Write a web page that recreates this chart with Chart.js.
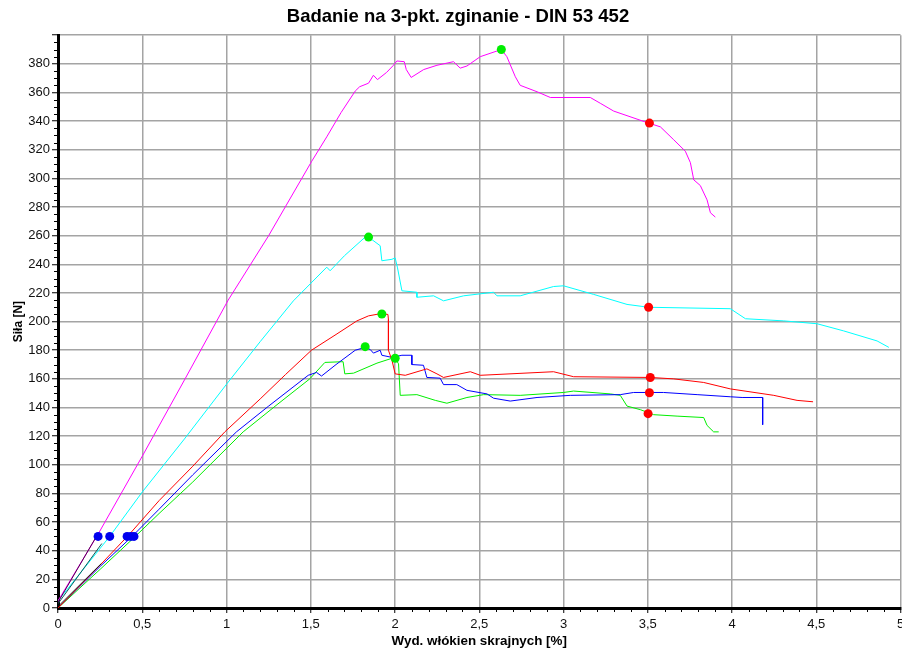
<!DOCTYPE html>
<html>
<head>
<meta charset="utf-8">
<script src="https://cdn.jsdelivr.net/npm/chart.js@4"></script>
<style>
  html, body { margin: 0; background: #fff; overflow: hidden; }
  canvas { display: block; }
</style>
</head>
<body>
<canvas id="bend-chart" width="905" height="655"></canvas>
<script>
// strain [%] / force [N] readings for each specimen
const magentaX = [0, 0.24, 0.5, 0.754, 1.01, 1.25, 1.506, 1.595, 1.68, 1.764, 1.79, 1.843, 1.872, 1.896, 1.95, 1.991, 2.011, 2.055, 2.067, 2.096, 2.17, 2.249, 2.347, 2.387, 2.427, 2.506, 2.631, 2.664, 2.714, 2.743, 2.843, 2.922, 3.159, 3.218, 3.298, 3.496, 3.575, 3.654, 3.723, 3.753, 3.773, 3.812, 3.852, 3.872, 3.901];
const magentaY = [5, 52, 106, 160, 215, 260, 312, 329, 346, 361, 364, 366.5, 372, 369, 374, 379, 382, 381.5, 376, 370.5, 376, 379, 381.5, 377, 378.5, 385, 390, 385, 371, 365, 360.5, 356.5, 356.5, 352.5, 347, 339, 336, 327, 319, 311, 299, 295, 285, 276, 273];

const cyanX = [0, 0.307, 0.5, 0.75, 1.005, 1.2, 1.397, 1.595, 1.615, 1.7, 1.823, 1.843, 1.912, 1.922, 1.982, 2.001, 2.015, 2.041, 2.13, 2.13, 2.229, 2.288, 2.407, 2.585, 2.605, 2.743, 2.941, 3.0, 3.179, 3.377, 3.505, 3.99, 4.08, 4.307, 4.505, 4.663, 4.861, 4.931];
const cyanY = [5, 50, 81, 118, 157, 186, 214.5, 238, 235.5, 246, 259, 259, 253, 242.5, 243.5, 244.5, 237.5, 221.5, 220.5, 217, 218, 214.5, 218, 220.5, 218, 218, 224.5, 225, 219, 212, 210, 209, 202, 200.5, 198.5, 193.5, 186.5, 182];

const redX = [0, 0.25, 0.42, 0.6, 0.8, 0.99, 1.2, 1.35, 1.504, 1.65, 1.774, 1.843, 1.912, 1.958, 1.961, 1.961, 1.982, 2.001, 2.061, 2.189, 2.249, 2.288, 2.447, 2.506, 2.941, 3.06, 3.515, 3.654, 3.832, 3.99, 4.248, 4.386, 4.481];
const redY = [0, 30, 51, 75, 99, 123, 146, 163, 180, 191, 200.5, 204, 205.5, 205, 201.5, 180, 173, 163.5, 162.5, 167, 163.5, 161, 165, 162.5, 165, 161.5, 161, 160, 157.5, 153, 148.5, 145, 144];

const blueX = [0, 0.25, 0.44, 0.6, 0.8, 1.059, 1.25, 1.485, 1.534, 1.564, 1.65, 1.764, 1.823, 1.853, 1.872, 1.912, 1.922, 1.982, 2.041, 2.1, 2.1, 2.169, 2.189, 2.268, 2.288, 2.367, 2.427, 2.546, 2.585, 2.684, 2.843, 3.04, 3.337, 3.416, 3.594, 3.793, 3.99, 4.06, 4.182, 4.182];
const blueY = [0, 29, 50, 69, 93, 123, 141, 162.5, 164.5, 162, 170, 180, 182, 180.5, 178, 180, 176.5, 175, 176.5, 176.5, 170, 169.5, 161, 160.5, 156, 156, 152, 149.5, 146.5, 144.5, 147, 148.5, 149, 150.5, 150.5, 149, 147.5, 147, 147, 128];

const greenX = [0, 0.25, 0.45, 0.6, 0.8, 1.099, 1.3, 1.494, 1.584, 1.692, 1.702, 1.754, 1.893, 1.972, 2.001, 2.021, 2.031, 2.13, 2.239, 2.308, 2.427, 2.526, 2.743, 3.0, 3.06, 3.278, 3.337, 3.377, 3.456, 3.535, 3.674, 3.832, 3.852, 3.891, 3.921];
const greenY = [0, 27, 49, 66, 88, 123, 142, 160, 171.5, 172, 163.5, 164, 171, 174, 174.5, 170.5, 148.5, 149, 145, 143, 147, 149, 148.5, 150.5, 151.5, 149.5, 148.5, 141, 138.5, 135, 134, 133, 127.5, 123, 123];

// modulus fit segments over the start of each curve
const fitMagentaX = [0, 0.238];
const fitMagentaY = [4, 52];
const fitCyanX = [0, 0.26];
const fitCyanY = [3, 45];
const fitLowX = [0, 0.257];
const fitLowY = [1, 31];

// marked points: force 50 N, maximum force, value at 3.5 %
const startX = [0.238, 0.307, 0.41, 0.432, 0.451];
const startY = [50, 50, 50, 50, 50];
const maxX = [2.631, 1.843, 1.922, 1.823, 2.001];
const maxY = [390, 259, 205.3, 182.5, 174.4];
const at35X = [3.51, 3.505, 3.515, 3.51, 3.502];
const at35Y = [338.6, 210, 161, 150.3, 135.7];

const xMin = 0, xMax = 5, xStep = 0.5, xMinor = 0.1;
const yMin = 0, yMax = 400, yStep = 20, yMinor = 5;

const pts = (xs, ys) => xs.map((x, i) => ({ x: x, y: ys[i] }));

const curve = (xs, ys, color, order) => ({
    data: pts(xs, ys),
    showLine: true,
    borderColor: color,
    borderWidth: 1,
    pointRadius: 0,
    tension: 0,
    order: order
});

const marks = (xs, ys, color) => ({
    data: pts(xs, ys),
    showLine: false,
    pointRadius: 4.5,
    pointBackgroundColor: color,
    pointBorderColor: color,
    pointBorderWidth: 0,
    order: 0
});

const fontFamily = '"Liberation Sans", Arial, sans-serif';

// small minor tick marks on both axes
const minorTicks = {
    id: 'minorTicks',
    afterDraw(chart) {
        const ctx = chart.ctx;
        const area = chart.chartArea;
        const xs = chart.scales.x, ys = chart.scales.y;
        ctx.save();
        ctx.strokeStyle = '#000';
        ctx.lineWidth = 1;
        ctx.beginPath();
        for (let v = yMin; v <= yMax + 0.001; v += yMinor) {
            if (Math.round(v) % yStep === 0) continue;
            const p = Math.round(ys.getPixelForValue(v)) + 0.5;
            ctx.moveTo(area.left - 4, p);
            ctx.lineTo(area.left - 1, p);
        }
        for (let i = 0; i <= Math.round((xMax - xMin) / xMinor); i++) {
            if (i % 5 === 0) continue;
            const p = Math.round(xs.getPixelForValue(xMin + i * xMinor)) + 0.5;
            ctx.moveTo(p, area.bottom + 1);
            ctx.lineTo(p, area.bottom + 4);
        }
        ctx.stroke();
        ctx.restore();
    }
};

new Chart(document.getElementById('bend-chart'), {
    type: 'scatter',
    data: {
        datasets: [
            marks(startX, startY, '#0000ee'),
            marks(maxX, maxY, '#00ee00'),
            marks(at35X, at35Y, '#ff0000'),
            curve(fitMagentaX, fitMagentaY, '#500050', 1),
            curve(fitCyanX, fitCyanY, '#105858', 1),
            curve(fitLowX, fitLowY, '#101010', 1),
            curve(magentaX, magentaY, '#ff00ff', 2),
            curve(cyanX, cyanY, '#00ffff', 2),
            curve(redX, redY, '#ff0000', 2),
            curve(blueX, blueY, '#0000ff', 2),
            curve(greenX, greenY, '#00ee00', 3)
        ]
    },
    plugins: [minorTicks],
    options: {
        responsive: false,
        animation: false,
        devicePixelRatio: 1,
        layout: { padding: { left: 11, right: 0, top: 0, bottom: 0 } },
        plugins: {
            legend: { display: false },
            tooltip: { enabled: false },
            title: {
                display: true,
                text: 'Badanie na 3-pkt. zginanie - DIN 53 452',
                color: '#000',
                font: { family: fontFamily, size: 18.5, weight: 'bold' },
                padding: { top: 6, bottom: 7 }
            }
        },
        scales: {
            x: {
                type: 'linear',
                min: xMin,
                max: xMax,
                afterFit(scale) {
                    scale.height = 47;
                    scale.paddingLeft = 0;
                    scale.paddingRight = 0;
                },
                ticks: {
                    stepSize: xStep,
                    maxRotation: 0,
                    autoSkip: false,
                    padding: 4,
                    color: '#111',
                    font: { family: fontFamily, size: 13 },
                    callback: (v) => String(Math.round(v * 10) / 10).replace('.', ',')
                },
                grid: {
                    color: '#a4a4a4',
                    lineWidth: 1.5,
                    tickColor: '#000',
                    tickLength: 5,
                    tickWidth: 1
                },
                border: { color: '#000', width: 3 },
                title: {
                    display: true,
                    text: 'Wyd. włókien skrajnych [%]',
                    color: '#000',
                    font: { family: fontFamily, size: 13.4, weight: 'bold' },
                    padding: { top: 0, bottom: 6 }
                }
            },
            y: {
                type: 'linear',
                min: yMin,
                max: yMax,
                afterFit(scale) {
                    scale.width = 47;
                    scale.paddingTop = 0;
                    scale.paddingBottom = 0;
                },
                ticks: {
                    stepSize: yStep,
                    autoSkip: false,
                    padding: 2,
                    color: '#111',
                    font: { family: fontFamily, size: 13 },
                    callback: (v) => (v >= yMax ? '' : String(v))
                },
                grid: {
                    color: '#a4a4a4',
                    lineWidth: 1.5,
                    tickColor: '#000',
                    tickLength: 6,
                    tickWidth: 1
                },
                border: { color: '#000', width: 3 },
                title: {
                    display: true,
                    text: 'Siła [N]',
                    color: '#000',
                    font: { family: fontFamily, size: 12, weight: 'bold' },
                    padding: { top: 0, bottom: 0 }
                }
            }
        }
    }
});
</script>
</body>
</html>
